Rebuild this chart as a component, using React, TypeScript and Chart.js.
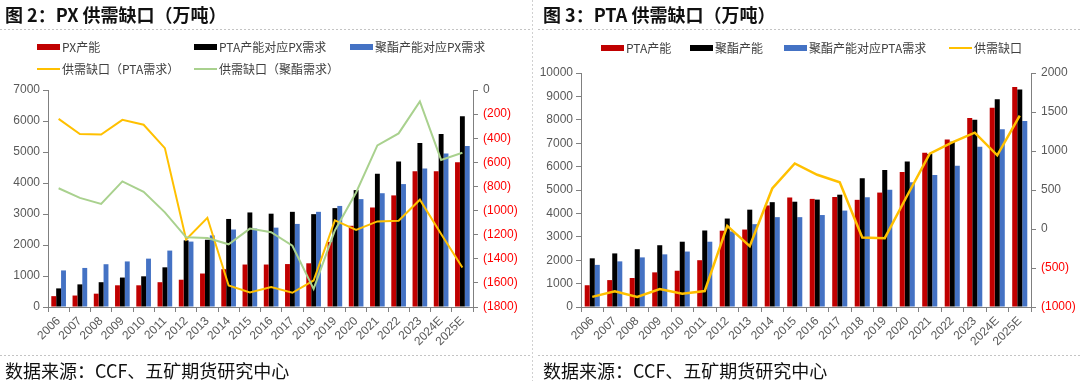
import React, { useEffect, useRef } from 'react';
import { Chart, registerables } from 'chart.js';

Chart.register(...registerables);

// ---------- data ----------
const categories = [
  '2006', '2007', '2008', '2009', '2010', '2011', '2012', '2013', '2014', '2015',
  '2016', '2017', '2018', '2019', '2020', '2021', '2022', '2023', '2024E', '2025E',
];

// Figure 2: PX
const pxSeriesNames = ['PX产能', 'PTA产能对应PX需求', '聚酯产能对应PX需求', '供需缺口（PTA需求）', '供需缺口（聚酯需求）'];
const pxCapacity = [350, 370, 430, 700, 700, 800, 880, 1080, 1220, 1370, 1370, 1385, 1410, 2100, 2620, 3210, 3600, 4380, 4380, 4670];
const ptaDemandForPX = [600, 730, 800, 950, 990, 1280, 2150, 2170, 2840, 3050, 3010, 3070, 2995, 3190, 3770, 4300, 4690, 5290, 5580, 6150];
const polyesterDemandForPX = [1180, 1260, 1380, 1470, 1560, 1820, 2110, 2310, 2500, 2530, 2560, 2680, 3070, 3260, 3480, 3670, 3965, 4470, 4950, 5190];
const pxGapPTA = [-240, -365, -370, -248, -288, -482, -1240, -1060, -1622, -1680, -1635, -1682, -1580, -1082, -1160, -1090, -1085, -910, -1195, -1472];
const pxGapPolyester = [-815, -895, -945, -758, -845, -1015, -1222, -1228, -1280, -1150, -1180, -1292, -1650, -1165, -850, -460, -360, -95, -580, -520];
const pxLeftTicks = { min: 0, max: 7000, step: 1000 };
const pxRightTicks = { min: -1800, max: 0, step: 200 };

// Figure 3: PTA
const ptaSeriesNames = ['PTA产能', '聚酯产能', '聚酯产能对应PTA需求', '供需缺口'];
const ptaCapacity = [930, 1150, 1240, 1480, 1550, 2000, 3260, 3310, 4340, 4680, 4620, 4700, 4580, 4890, 5770, 6590, 7160, 8080, 8520, 9400];
const polyesterCapacity = [2080, 2290, 2470, 2640, 2790, 3270, 3780, 4160, 4480, 4500, 4590, 4800, 5500, 5860, 6220, 6540, 7060, 8000, 8880, 9300];
const polyesterDemandForPTA = [1800, 1950, 2120, 2250, 2370, 2790, 3230, 3540, 3840, 3840, 3930, 4120, 4690, 5010, 5330, 5640, 6040, 6850, 7600, 7950];
const ptaGap = [-870, -800, -870, -770, -830, -795, 40, -220, 520, 840, 695, 600, -108, -118, 430, 965, 1110, 1235, 945, 1455];
const ptaLeftTicks = { min: 0, max: 10000, step: 1000 };
const ptaRightTicks = { min: -1000, max: 2000, step: 500 };

const titles = ['图 2：PX 供需缺口（万吨）', '图 3：PTA 供需缺口（万吨）'];
const sourceText = '数据来源：CCF、五矿期货研究中心';

// ---------- styles ----------
const RED = '#C00000';
const BLACK = '#000000';
const BLUE = '#4472C4';
const YELLOW = '#FFC000';
const GREEN = '#A9D18E';
const AXIS = '#808080';
const TICK_TEXT = '#595959';
const CJK = '"Noto Sans CJK SC", "Noto Sans", sans-serif';
const LATIN = '"Liberation Sans", Arial, sans-serif';

const fmtParen = (v: number) => (v < 0 ? `(${Math.abs(v)})` : String(v));

function axisBase() {
  return {
    grid: { drawOnChartArea: false, drawTicks: true, tickLength: 5, color: AXIS },
    border: { display: true, color: AXIS, width: 1 },
  };
}

function buildConfig(opts: {
  bars: { label: string; data: number[]; color: string }[];
  lines: { label: string; data: number[]; color: string; width: number }[];
  left: { min: number; max: number; step: number };
  right: { min: number; max: number; step: number };
  padTop: number;
  leftW: number;
  rightW: number;
  catPct: number;
}) {
  const datasets: any[] = [];
  opts.bars.forEach((b) => {
    datasets.push({
      type: 'bar',
      label: b.label,
      data: b.data,
      backgroundColor: b.color,
      borderWidth: 0,
      yAxisID: 'y',
      order: 5,
      categoryPercentage: opts.catPct,
      barPercentage: 1,
    });
  });
  opts.lines.forEach((l, i) => {
    datasets.push({
      type: 'line',
      label: l.label,
      data: l.data,
      borderColor: l.color,
      backgroundColor: l.color,
      borderWidth: l.width,
      pointRadius: 0,
      tension: 0,
      fill: false,
      yAxisID: 'y1',
      order: 2 - i,
    });
  });
  return {
    type: 'bar',
    data: { labels: categories, datasets },
    options: {
      animation: false,
      responsive: false,
      maintainAspectRatio: false,
      events: [],
      layout: { padding: { top: opts.padTop, bottom: 26, left: 0, right: 0 } },
      plugins: { legend: { display: false }, tooltip: { enabled: false } },
      scales: {
        x: {
          ...axisBase(),
          grid: { drawOnChartArea: false, drawTicks: true, tickLength: 5, color: AXIS, offset: true },
          ticks: {
            autoSkip: false,
            minRotation: 45,
            maxRotation: 45,
            padding: 2,
            color: TICK_TEXT,
            font: { family: LATIN, size: 12 },
          },
          afterFit: (s: any) => {
            s.height = 48;
          },
        },
        y: {
          ...axisBase(),
          position: 'left',
          min: opts.left.min,
          max: opts.left.max,
          ticks: {
            stepSize: opts.left.step,
            padding: 3,
            callback: (v: any) => String(v),
            color: TICK_TEXT,
            font: { family: LATIN, size: 12 },
          },
          afterFit: (s: any) => {
            s.width = opts.leftW;
          },
        },
        y1: {
          ...axisBase(),
          position: 'right',
          min: opts.right.min,
          max: opts.right.max,
          ticks: {
            stepSize: opts.right.step,
            padding: 5,
            callback: (v: any) => fmtParen(Number(v)),
            color: (ctx: any) => (ctx.tick && ctx.tick.value < 0 ? '#FF0000' : TICK_TEXT),
            font: { family: LATIN, size: 12 },
          },
          afterFit: (s: any) => {
            s.width = opts.rightW;
          },
        },
      },
    },
  };
}

function ChartCanvas({ config, width, height }: { config: any; width: number; height: number }) {
  const ref = useRef<HTMLCanvasElement | null>(null);
  useEffect(() => {
    if (!ref.current) return;
    const chart = new Chart(ref.current, config);
    return () => chart.destroy();
  }, [config]);
  return <canvas ref={ref} width={width} height={height} style={{ width, height, display: 'block' }} />;
}

type LegendItem = { label: string; color: string; kind: 'box' | 'line'; x: number; y: number };

function Legend({ items }: { items: LegendItem[] }) {
  return (
    <>
      {items.map((it, i) => (
        <div
          key={i}
          style={{
            position: 'absolute',
            left: it.x,
            top: it.y - 10,
            height: 20,
            display: 'flex',
            alignItems: 'center',
            whiteSpace: 'nowrap',
          }}
        >
          <div
            style={{
              width: 23,
              height: it.kind === 'box' ? 6 : 2,
              background: it.color,
              marginRight: 2,
            }}
          />
          <span style={{ fontFamily: CJK, fontSize: 12, color: '#404040', lineHeight: '20px' }}>{it.label}</span>
        </div>
      ))}
    </>
  );
}

const dashH = (left: number, top: number, width: number) => (
  <div
    style={{
      position: 'absolute',
      left,
      top,
      width,
      height: 1,
      background: 'repeating-linear-gradient(to right, #c4c4c4 0 2px, transparent 2px 4px)',
    }}
  />
);

const pxConfig = buildConfig({
  bars: [
    { label: pxSeriesNames[0], data: pxCapacity, color: RED },
    { label: pxSeriesNames[1], data: ptaDemandForPX, color: BLACK },
    { label: pxSeriesNames[2], data: polyesterDemandForPX, color: BLUE },
  ],
  lines: [
    { label: pxSeriesNames[3], data: pxGapPTA, color: YELLOW, width: 2 },
    { label: pxSeriesNames[4], data: pxGapPolyester, color: GREEN, width: 2 },
  ],
  left: pxLeftTicks,
  right: pxRightTicks,
  padTop: 90,
  leftW: 48,
  rightW: 59,
  catPct: 0.69,
});

const ptaConfig = buildConfig({
  bars: [
    { label: ptaSeriesNames[0], data: ptaCapacity, color: RED },
    { label: ptaSeriesNames[1], data: polyesterCapacity, color: BLACK },
    { label: ptaSeriesNames[2], data: polyesterDemandForPTA, color: BLUE },
  ],
  lines: [{ label: ptaSeriesNames[3], data: ptaGap, color: YELLOW, width: 2.5 }],
  left: ptaLeftTicks,
  right: ptaRightTicks,
  padTop: 73,
  leftW: 41,
  rightW: 49,
  catPct: 0.67,
});

const pxLegend: LegendItem[] = [
  { label: pxSeriesNames[0], color: RED, kind: 'box', x: 37, y: 47 },
  { label: pxSeriesNames[1], color: BLACK, kind: 'box', x: 194, y: 47 },
  { label: pxSeriesNames[2], color: BLUE, kind: 'box', x: 350, y: 47 },
  { label: pxSeriesNames[3], color: YELLOW, kind: 'line', x: 37, y: 69 },
  { label: pxSeriesNames[4], color: GREEN, kind: 'line', x: 194, y: 69 },
];

const ptaLegend: LegendItem[] = [
  { label: ptaSeriesNames[0], color: RED, kind: 'box', x: 601, y: 48 },
  { label: ptaSeriesNames[1], color: BLACK, kind: 'box', x: 690, y: 48 },
  { label: ptaSeriesNames[2], color: BLUE, kind: 'box', x: 784, y: 48 },
  { label: ptaSeriesNames[3], color: YELLOW, kind: 'line', x: 949, y: 48 },
];

const titleStyle: React.CSSProperties = {
  position: 'absolute',
  top: 3,
  fontFamily: CJK,
  fontWeight: 700,
  fontSize: 18,
  lineHeight: '22px',
  color: '#111',
  whiteSpace: 'nowrap',
};

const footStyle: React.CSSProperties = {
  position: 'absolute',
  top: 359,
  fontFamily: CJK,
  fontSize: 18,
  lineHeight: '22px',
  color: '#111',
  whiteSpace: 'nowrap',
};

export default function App() {
  return (
    <div
      style={{
        position: 'fixed',
        left: 0,
        top: 0,
        width: 1080,
        height: 381,
        background: '#fff',
        overflow: 'hidden',
      }}
    >
      <div style={{ position: 'absolute', left: 0, top: 0 }}>
        <ChartCanvas config={pxConfig} width={532} height={381} />
      </div>
      <div style={{ position: 'absolute', left: 540, top: 0 }}>
        <ChartCanvas config={ptaConfig} width={540} height={381} />
      </div>
      <div style={{ ...titleStyle, left: 5 }}>{titles[0]}</div>
      <div style={{ ...titleStyle, left: 543 }}>{titles[1]}</div>
      <div style={{ ...footStyle, left: 5 }}>{sourceText}</div>
      <div style={{ ...footStyle, left: 543 }}>{sourceText}</div>
      {dashH(0, 29, 532)}
      {dashH(538, 29, 542)}
      {dashH(0, 355, 532)}
      {dashH(538, 355, 542)}
      <div
        style={{
          position: 'absolute',
          left: 532,
          top: 0,
          width: 1,
          height: 381,
          background: 'repeating-linear-gradient(to bottom, #d0d0d0 0 2px, transparent 2px 4px)',
        }}
      />
      <Legend items={pxLegend} />
      <Legend items={ptaLegend} />
    </div>
  );
}
